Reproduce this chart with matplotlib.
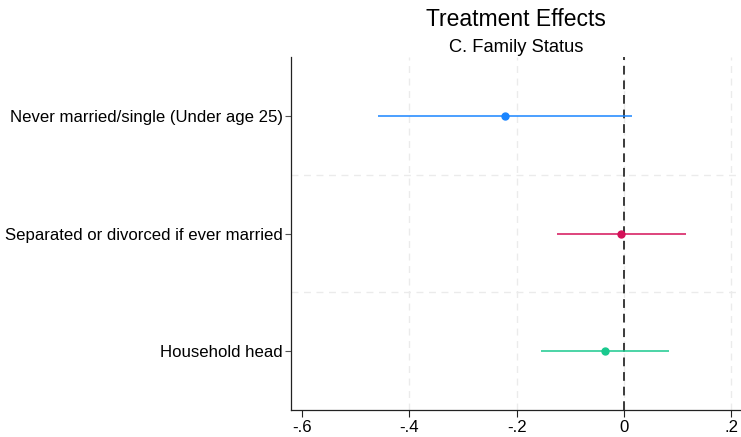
import matplotlib
matplotlib.use("Agg")
import matplotlib.pyplot as plt

plt.rcParams['font.family'] = ['Liberation Sans', 'DejaVu Sans']

# coefficient estimates and 95% CI bounds, top to bottom
labels = ['Never married/single (Under age 25)',
          'Separated or divorced if ever married',
          'Household head']
coef = [-0.222, -0.005, -0.036]
ci_low = [-0.458, -0.124, -0.155]
ci_high = [0.015, 0.115, 0.083]
colors = ['#1a85ff', '#d41159', '#1ac98e']

xticks = [-0.6, -0.4, -0.2, 0, 0.2]
xticklabels = ['-.6', '-.4', '-.2', '0', '.2']

fig = plt.figure(figsize=(7.41, 4.37), dpi=100)
ax = fig.add_axes([291/741, 27/437, 450/741, 353/437])

ypos = list(range(1, len(labels) + 1))

# light dashed grid
for x in xticks[1:]:
    ax.axvline(x, color='#ebebeb', lw=1.0, ls=(0, (5, 4)), zorder=0)
for y in [1.5, 2.5]:
    ax.axhline(y, color='#ebebeb', lw=1.0, ls=(0, (5, 4)), zorder=0)

ax.axvline(0, color='#3a3a3a', lw=1.4, ls=(0, (4.5, 3)), zorder=1)

for y, c, lo, hi, col in zip(ypos, coef, ci_low, ci_high, colors):
    ax.plot([lo, hi], [y, y], color=col, lw=1.1, solid_capstyle='butt', zorder=2)
    ax.plot(c, y, 'o', color=col, ms=5, zorder=3)

ax.set_xlim(-0.6205, 0.218)
ax.set_ylim(3.5, 0.5)
ax.set_yticks(ypos)
ax.set_yticklabels(labels, fontsize=12.1, va='center_baseline')
ax.set_xticks(xticks)
ax.set_xticklabels(xticklabels, fontsize=12.1)

for s in ['top', 'right']:
    ax.spines[s].set_visible(False)
for s in ['left', 'bottom']:
    ax.spines[s].set_color('#222222')
    ax.spines[s].set_linewidth(0.9)
ax.tick_params(axis='y', length=4, width=0.8, color='#555555', pad=2)
ax.tick_params(axis='x', length=5, width=0.8, color='#222222', pad=2)

fig.text(516/741, 1 - 26/437, 'Treatment Effects', ha='center', va='baseline', fontsize=16.5)
fig.text(516/741, 1 - 51.7/437, 'C. Family Status', ha='center', va='baseline', fontsize=13.2)

fig.savefig('out.png', dpi=100)
